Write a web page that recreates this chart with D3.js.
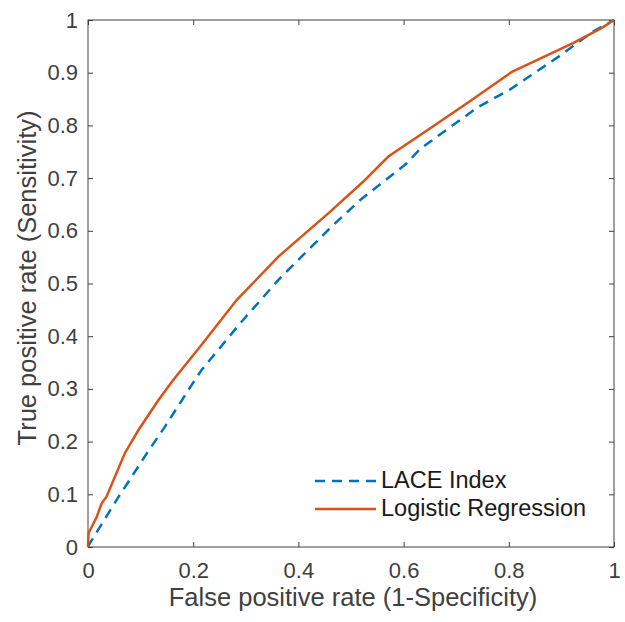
<!DOCTYPE html>
<html>
<head>
<meta charset="utf-8">
<script src="https://d3js.org/d3.v7.min.js"></script>
<style>
  body { margin: 0; background: #fff; }
  svg { display: block; font-family: "Liberation Sans", Arial, sans-serif; }
</style>
</head>
<body>
<svg id="chart" width="625" height="622"></svg>
<script>
// ROC curve points (false positive rate, true positive rate)
var laceFpr = [0, 0.004, 0.058, 0.112, 0.146, 0.2, 0.216, 0.289, 0.362, 0.46, 0.517, 0.606, 0.631, 0.707, 0.742, 0.802, 0.894, 0.96, 1];
var laceTpr = [0, 0.008, 0.095, 0.178, 0.228, 0.312, 0.336, 0.424, 0.507, 0.605, 0.658, 0.728, 0.755, 0.81, 0.835, 0.868, 0.93, 0.978, 1];

var logFpr = [0, 0.001, 0.0165, 0.026, 0.035, 0.07, 0.096, 0.134, 0.162, 0.213, 0.283, 0.362, 0.46, 0.523, 0.571, 0.65, 0.726, 0.805, 0.922, 0.977, 1];
var logTpr = [0, 0.026, 0.057, 0.083, 0.095, 0.178, 0.222, 0.279, 0.317, 0.38, 0.469, 0.551, 0.636, 0.693, 0.741, 0.794, 0.846, 0.901, 0.956, 0.985, 1];

var tickVals = [0, 0.1, 0.2, 0.3, 0.4, 0.5, 0.6, 0.7, 0.8, 0.9, 1];
var xTickVals = [0, 0.2, 0.4, 0.6, 0.8, 1];

var seriesNames = ["LACE Index", "Logistic Regression"];
var seriesColors = ["#0072BD", "#D95319"];

var svg = d3.select("#chart");
var pLeft = 88, pRight = 614, pTop = 20, pBottom = 547;

var x = d3.scaleLinear().domain([0, 1]).range([pLeft, pRight]);
var y = d3.scaleLinear().domain([0, 1]).range([pBottom, pTop]);

var axisColor = "#404040";
var fmt = function(d) { return d === 0 || d === 1 ? d3.format("d")(d) : d3.format(".1f")(d); };

// box
svg.append("rect")
  .attr("x", pLeft).attr("y", pTop)
  .attr("width", pRight - pLeft).attr("height", pBottom - pTop)
  .attr("fill", "none").attr("stroke", axisColor).attr("stroke-width", 1);

// axes with inward ticks
var xb = svg.append("g").attr("transform", "translate(0," + pBottom + ")")
  .call(d3.axisBottom(x).tickValues(xTickVals).tickSizeInner(-5).tickSizeOuter(0).tickPadding(15).tickFormat(fmt));
var xt = svg.append("g").attr("transform", "translate(0," + pTop + ")")
  .call(d3.axisTop(x).tickValues(xTickVals).tickSizeInner(-5).tickSizeOuter(0).tickFormat(""));
var yl = svg.append("g").attr("transform", "translate(" + pLeft + ",0)")
  .call(d3.axisLeft(y).tickValues(tickVals).tickSizeInner(-5).tickSizeOuter(0).tickPadding(10).tickFormat(fmt));
var yr = svg.append("g").attr("transform", "translate(" + pRight + ",0)")
  .call(d3.axisRight(y).tickValues(tickVals).tickSizeInner(-5).tickSizeOuter(0).tickFormat(""));

[xb, xt, yl, yr].forEach(function(g) {
  g.select(".domain").remove();
  g.selectAll(".tick line").attr("stroke", axisColor);
  g.selectAll(".tick text").attr("fill", axisColor).style("font-size", "22px")
    .style("font-family", "'Liberation Sans', Arial, sans-serif");
});

// curves
var line = d3.line().x(function(d) { return x(d[0]); }).y(function(d) { return y(d[1]); });
var laceData = laceFpr.map(function(v, i) { return [v, laceTpr[i]]; });
var logData = logFpr.map(function(v, i) { return [v, logTpr[i]]; });

svg.append("path").datum(laceData).attr("d", line)
  .attr("fill", "none").attr("stroke", seriesColors[0]).attr("stroke-width", 2.5)
  .attr("stroke-dasharray", "10,7");
svg.append("path").datum(logData).attr("d", line)
  .attr("fill", "none").attr("stroke", seriesColors[1]).attr("stroke-width", 2.5);

// axis labels
svg.append("text").attr("x", (pLeft + pRight) / 2 + 2).attr("y", 606)
  .attr("text-anchor", "middle").attr("fill", axisColor).style("font-size", "25.5px")
  .text("False positive rate (1-Specificity)");
svg.append("text").attr("transform", "translate(36,278) rotate(-90)")
  .attr("text-anchor", "middle").attr("fill", axisColor).style("font-size", "25.5px")
  .text("True positive rate (Sensitivity)");

// legend
var legend = svg.append("g");
seriesNames.forEach(function(name, i) {
  var ly = 481 + i * 28;
  legend.append("line").attr("x1", 315).attr("x2", 376).attr("y1", ly).attr("y2", ly)
    .attr("stroke", seriesColors[i]).attr("stroke-width", 2.5)
    .attr("stroke-dasharray", i === 0 ? "10,7" : null);
  legend.append("text").attr("x", 381).attr("y", ly + 7)
    .attr("fill", "#1a1a1a").style("font-size", "23.5px").text(name);
});
</script>
</body>
</html>
